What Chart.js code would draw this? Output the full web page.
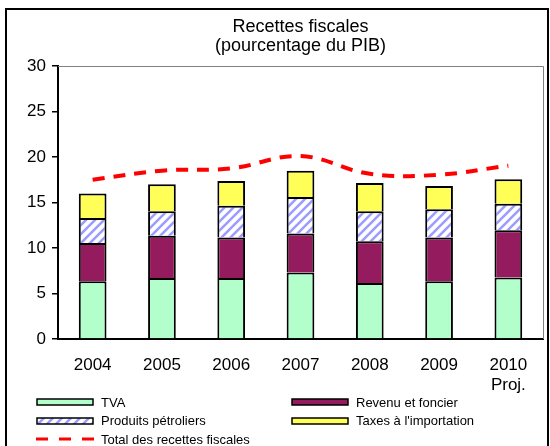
<!DOCTYPE html>
<html>
<head>
<meta charset="utf-8">
<script src="https://cdn.jsdelivr.net/npm/chart.js@4"></script>
<style>
  body { margin: 0; background: #fff; }
  #wrap { position: relative; width: 550px; height: 446px; overflow: hidden; }
  #legende {
    position: absolute; left: 36px; top: 393px;
    display: grid; grid-template-columns: 255px 255px;
    font: 13px 'Liberation Sans', Arial, sans-serif; color: #000;
  }
  .item { display: flex; align-items: center; height: 18.5px; white-space: nowrap; }
  .item canvas { margin-right: 7px; }
</style>
</head>
<body>
<div id="wrap">
  <canvas id="graphique" width="550" height="446"></canvas>
  <div id="legende"></div>
</div>
<script>
const titre = ['Recettes fiscales', '(pourcentage du PIB)'];
const annees = ['2004', '2005', '2006', '2007', '2008', '2009', ['2010', 'Proj.']];
const tva = [6.35, 6.7, 6.7, 7.3, 6.15, 6.35, 6.75];
const revenu = [4.2, 4.65, 4.45, 4.3, 4.6, 4.8, 5.2];
const petroliers = [2.75, 2.7, 3.5, 4.0, 3.3, 3.1, 2.9];
const importation = [2.7, 2.95, 2.7, 2.9, 3.1, 2.55, 2.7];
const total = [17.5, 18.5, 18.75, 20.1, 18.15, 18.05, 19.05];

Chart.defaults.font.family = "'Liberation Sans', Arial, sans-serif";
Chart.defaults.color = '#000';

// white tile with lavender "/" stripes
function hachures() {
    const c = document.createElement('canvas');
    c.width = 9; c.height = 9;
    const g = c.getContext('2d');
    g.fillStyle = '#fff';
    g.fillRect(0, 0, 9, 9);
    g.strokeStyle = '#9d9dff';
    g.lineWidth = 2.6;
    g.beginPath();
    g.moveTo(-2, 11); g.lineTo(11, -2);
    g.moveTo(-2, 2); g.lineTo(2, -2);
    g.moveTo(7, 11); g.lineTo(11, 7);
    g.stroke();
    return g.createPattern(c, 'repeat');
}

// outer frame, grey top/right edge of the plot and the centred title
const cadre = {
    id: 'cadre',
    beforeDraw(chart) {
        const ctx = chart.ctx;
        ctx.save();
        ctx.fillStyle = '#fff';
        ctx.fillRect(0, 0, chart.width, chart.height);
        ctx.restore();
    },
    afterDraw(chart) {
        const { ctx, chartArea: a } = chart;
        ctx.save();
        ctx.strokeStyle = '#808080';
        ctx.lineWidth = 1;
        ctx.beginPath();
        ctx.moveTo(a.left, a.top + 0.5);
        ctx.lineTo(a.right + 0.5, a.top + 0.5);
        ctx.lineTo(a.right + 0.5, a.bottom);
        ctx.stroke();

        ctx.strokeStyle = '#000';
        ctx.lineWidth = 2;
        ctx.strokeRect(6, 9, 542, 470);

        ctx.fillStyle = '#000';
        ctx.font = "18px 'Liberation Sans', Arial, sans-serif";
        ctx.textAlign = 'center';
        ctx.textBaseline = 'middle';
        const cx = (a.left + a.right) / 2;
        ctx.fillText(titre[0], cx, 27);
        ctx.fillText(titre[1], cx, 46);
        ctx.restore();
    }
};

const chart = new Chart(document.getElementById('graphique'), {
    type: 'bar',
    data: {
        labels: annees,
        datasets: [
            { label: 'TVA', data: tva, backgroundColor: '#b3ffcc' },
            { label: 'Revenu et foncier', data: revenu, backgroundColor: '#951b5f' },
            { label: 'Produits pétroliers', data: petroliers, backgroundColor: hachures() },
            { label: "Taxes à l'importation", data: importation, backgroundColor: '#ffff57' },
            {
                type: 'line',
                label: 'Total des recettes fiscales',
                data: total,
                stack: 'total',
                borderColor: '#ff0000',
                borderWidth: 4,
                borderDash: [12, 9],
                tension: 0.4,
                pointRadius: 0,
                fill: false
            }
        ]
    },
    options: {
        responsive: false,
        animation: false,
        layout: { padding: { top: 66, right: 7, bottom: 0, left: 0 } },
        datasets: {
            bar: {
                borderColor: '#000',
                borderWidth: 2,
                borderSkipped: 'start',
                categoryPercentage: 1,
                barPercentage: 0.4
            }
        },
        plugins: {
            legend: { display: false },
            tooltip: { enabled: false }
        },
        scales: {
            x: {
                stacked: true,
                grid: { display: false },
                border: { color: '#000', width: 2 },
                ticks: { font: { size: 17 }, padding: 8, maxRotation: 0 },
                afterFit: s => { s.height = 107; }
            },
            y: {
                stacked: true,
                min: 0,
                max: 30,
                ticks: { stepSize: 5, font: { size: 17 }, padding: 6 },
                grid: { drawOnChartArea: false, tickLength: 6, color: '#000', lineWidth: 1.5 },
                border: { color: '#000', width: 2 },
                afterFit: s => { s.width = 58; }
            }
        }
    },
    plugins: [cadre]
});

// legend below the plot, two columns
const legende = document.getElementById('legende');
chart.data.datasets.forEach(ds => {
    const item = document.createElement('div');
    item.className = 'item';
    const sw = document.createElement('canvas');
    sw.width = 58; sw.height = 8;
    const g = sw.getContext('2d');
    if (ds.type === 'line') {
        g.strokeStyle = ds.borderColor;
        g.lineWidth = 3;
        g.setLineDash([12, 11]);
        g.beginPath();
        g.moveTo(0, 4); g.lineTo(58, 4);
        g.stroke();
    } else {
        g.fillStyle = ds.backgroundColor;
        g.fillRect(1, 1, 56, 6);
        g.strokeStyle = '#000';
        g.lineWidth = 1.5;
        g.strokeRect(1, 1, 56, 6);
    }
    const txt = document.createElement('span');
    txt.textContent = ds.label;
    item.appendChild(sw);
    item.appendChild(txt);
    legende.appendChild(item);
});
</script>
</body>
</html>
